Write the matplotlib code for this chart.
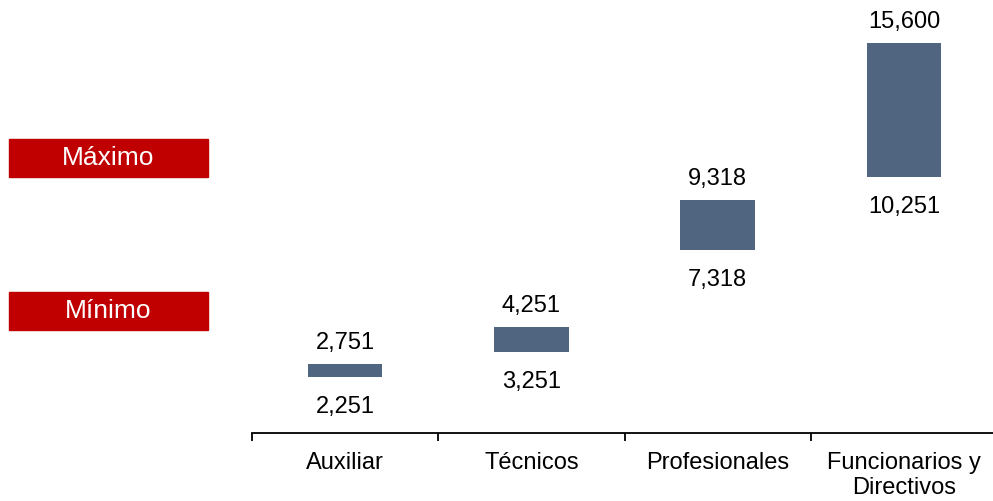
import matplotlib
matplotlib.use("Agg")
import matplotlib.pyplot as plt
from matplotlib.patches import Rectangle

plt.rcParams["font.family"] = ["Liberation Sans", "DejaVu Sans"]

# datos: rango salarial por categoría
categorias = ["Auxiliar", "Técnicos", "Profesionales", "Funcionarios y\nDirectivos"]
minimos = [2251, 3251, 7318, 10251]
maximos = [2751, 4251, 9318, 15600]
etiquetas_leyenda = ["Máximo", "Mínimo"]

COLOR_BARRA = "#506580"
COLOR_ROJO = "#C00000"

W, H = 993, 501
fig = plt.figure(figsize=(W / 100, H / 100), dpi=100)
# el eje sale un poco por la derecha, como en el original
ax = fig.add_axes([252 / W, (H - 433) / H, 745 / W, 433 / H])

x = list(range(len(categorias)))
alturas = [mx - mn for mn, mx in zip(minimos, maximos)]
ax.bar(x, alturas, bottom=minimos, width=0.4, color=COLOR_BARRA)

for xi, mn, mx in zip(x, minimos, maximos):
    ax.annotate(f"{mx:,}", (xi, mx), xytext=(0, 21), textcoords="offset pixels",
                ha="center", va="center", fontsize=17)
    ax.annotate(f"{mn:,}", (xi, mn), xytext=(0, -30), textcoords="offset pixels",
                ha="center", va="center", fontsize=17)

ax.set_xlim(-0.5, len(categorias) - 0.5)
ax.set_ylim(0, 17320)

for s in ["top", "right", "left"]:
    ax.spines[s].set_visible(False)
ax.spines["bottom"].set_linewidth(1.3)
ax.set_yticks([])

# ticks en los bordes de cada categoría, etiquetas en el centro
ax.set_xticks([i - 0.5 for i in range(len(categorias) + 1)])
ax.set_xticklabels([])
ax.tick_params(axis="x", which="major", direction="out", length=6, width=1.3)
ax.set_xticks(x, minor=True)
ax.set_xticklabels(categorias, minor=True, fontsize=17, linespacing=1.15)
ax.tick_params(axis="x", which="minor", length=0, pad=14)

# cajas rojas a la izquierda
for etiqueta, (y_top, y_bot) in zip(etiquetas_leyenda, [(139, 177), (292, 330)]):
    fig.patches.append(Rectangle((9 / W, 1 - y_bot / H), 199 / W, (y_bot - y_top) / H,
                                 transform=fig.transFigure, color=COLOR_ROJO))
    fig.text(108 / W, 1 - (y_top + y_bot) / 2 / H, etiqueta, color="white",
             fontsize=19, ha="center", va="center")

fig.savefig("out.png", dpi=100)
